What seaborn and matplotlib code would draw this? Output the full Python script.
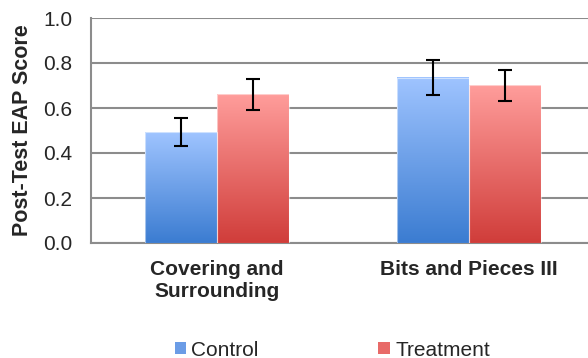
import numpy as np
import pandas as pd
import matplotlib
matplotlib.use("Agg")
import matplotlib.pyplot as plt
import seaborn as sns
from matplotlib.colors import LinearSegmentedColormap
from matplotlib.patches import Patch

# data
units = ["Covering and\nSurrounding", "Bits and Pieces III"]
groups = ["Control", "Treatment"]
control = [0.493, 0.735]
treatment = [0.661, 0.701]
control_err = [0.063, 0.079]
treatment_err = [0.070, 0.070]

df = pd.DataFrame({
    "unit": units * 2,
    "group": [groups[0]] * 2 + [groups[1]] * 2,
    "score": control + treatment,
    "err": control_err + treatment_err,
})

sns.set_style("white")
plt.rcParams["font.family"] = ["Liberation Sans", "DejaVu Sans"]

top_cols = {"Control": "#9fc4ff", "Treatment": "#ff9d9b"}
bot_cols = {"Control": "#3b7cd1", "Treatment": "#d03d3a"}
mid_cols = {"Control": "#6b9ce6", "Treatment": "#e86a68"}

fig = plt.figure(figsize=(5.88, 3.58), dpi=100)
ax = fig.add_axes([91 / 588, 1 - 243 / 358, (595 - 91) / 588, (243 - 18) / 358])

sns.barplot(data=df, x="unit", y="score", hue="group", order=units, hue_order=groups,
            palette=mid_cols, width=0.571, gap=0, errorbar=None, legend=False, ax=ax,
            saturation=1, zorder=3)

# gradient fills + error bars
grad = np.linspace(0, 1, 256).reshape(-1, 1)
bars = ax.patches
for i, g in enumerate(groups):
    cmap = LinearSegmentedColormap.from_list(g, [bot_cols[g], top_cols[g]])
    sub = df[df["group"] == g].set_index("unit").loc[units]
    for j, u in enumerate(units):
        p = bars[i * len(units) + j]
        x0, w, h = p.get_x(), p.get_width(), p.get_height()
        ax.imshow(grad, extent=[x0, x0 + w, 0, h], origin="lower", aspect="auto",
                  cmap=cmap, zorder=3.1)
        p.set_facecolor("none")
        p.set_edgecolor((1, 1, 1, 0.5))
        p.set_linewidth(0.8)
        p.set_zorder(3.2)
        ax.errorbar(x0 + w / 2, h, yerr=sub.loc[u, "err"], fmt="none", ecolor="black",
                    elinewidth=1.5, capsize=5, capthick=1.5, zorder=4)

ax.set_xlim(-0.5, 1.5)
ax.set_ylim(0, 1.0)
ax.set_yticks(np.arange(0, 1.01, 0.2))
ax.set_yticklabels([f"{v:.1f}" for v in np.arange(0, 1.01, 0.2)])
ax.yaxis.grid(True, color="#8c8c8c", linewidth=1.5, zorder=0)
ax.set_axisbelow(True)

for s in ["top", "right"]:
    ax.spines[s].set_visible(False)
for s in ["left", "bottom"]:
    ax.spines[s].set_color("#8c8c8c")
    ax.spines[s].set_linewidth(1.5)

ax.set_xticks([-0.5, 0.5, 1.5], minor=True)
ax.tick_params(axis="x", which="major", length=0, pad=12, labelsize=15)
ax.tick_params(axis="x", which="minor", length=4.3, width=1.2, color="#8c8c8c", direction="out")
ax.tick_params(axis="y", length=4.3, width=1.2, color="#8c8c8c", labelsize=15, direction="out", pad=9)
for lab in ax.get_xticklabels():
    lab.set_fontweight("bold")

ax.set_xlabel("")
ax.set_ylabel("Post-Test EAP Score", fontsize=15.5, fontweight="bold")
ax.yaxis.set_label_coords(-0.115, 0.5)

handles = [Patch(facecolor=mid_cols[g], edgecolor="none") for g in groups]
fig.legend(handles, groups, loc="center", bbox_to_anchor=(0.565, 1 - 350 / 358), ncol=2,
           frameon=False, fontsize=15, handlelength=0.55, handleheight=0.55, handletextpad=0.25,
           columnspacing=5.75)

fig.savefig("out.png", dpi=100)
